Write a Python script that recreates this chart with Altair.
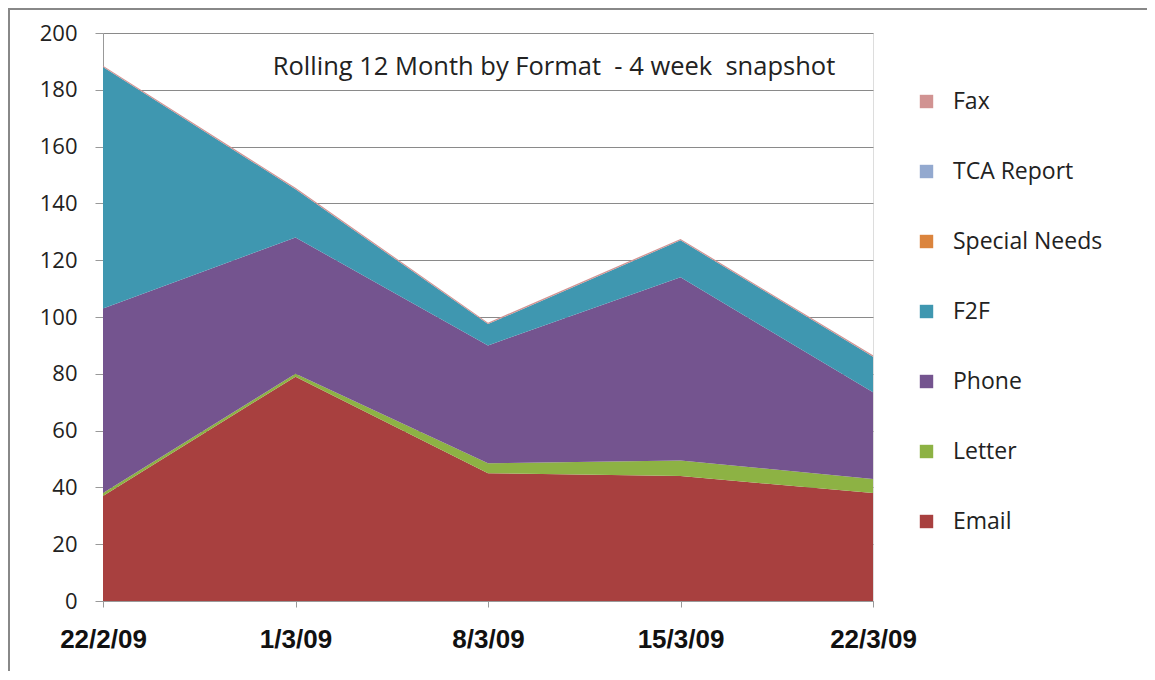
import altair as alt
import pandas as pd

dates = ["22/2/09", "1/3/09", "8/3/09", "15/3/09", "22/3/09"]
email = [37, 79, 45, 44, 38]
letter = [1, 1, 3.5, 5.5, 5]
phone = [65, 48, 41.5, 64.5, 30.5]
f2f = [85, 17, 7.5, 13, 12.5]
special_needs = [0, 0, 0, 0, 0]
tca_report = [0, 0, 0, 0, 0]
fax = [0.5, 0.5, 0.5, 0.5, 0.5]

series_names = ["Email", "Letter", "Phone", "F2F", "Special Needs", "TCA Report", "Fax"]
series_values = [email, letter, phone, f2f, special_needs, tca_report, fax]
series_colors = ["#A8403F", "#8DB244", "#74548F", "#3F97B0", "#DB843D", "#93A9CF", "#D19392"]

rows = []
for k, (name, vals) in enumerate(zip(series_names, series_values)):
    for d, v in zip(dates, vals):
        rows.append({"date": d, "series": name, "value": v, "order": k})
df = pd.DataFrame(rows)

legend_order = list(reversed(series_names))
legend_colors = list(reversed(series_colors))

W, H = 770, 568

areas = alt.Chart(df).mark_area(opacity=1).encode(
    x=alt.X("date:N", sort=dates,
            scale=alt.Scale(type="point", padding=0),
            axis=alt.Axis(title=None, labelAngle=0, labelFont="Liberation Sans",
                          labelFontWeight="bold", labelFontSize=26, labelColor="#111",
                          labelPadding=19, tickSize=6, tickColor="#999",
                          domainColor="#999", grid=False)),
    y=alt.Y("value:Q", stack="zero",
            scale=alt.Scale(domain=[0, 200], nice=False),
            axis=alt.Axis(title=None, values=list(range(0, 201, 20)), labelFont="Open Sans",
                          labelFontSize=22, labelColor="#222", labelPadding=18,
                          tickSize=8, tickColor="#999", domainColor="#999",
                          grid=True, gridColor="#8a8a8a", gridWidth=1)),
    color=alt.Color("series:N",
                    scale=alt.Scale(domain=legend_order, range=legend_colors),
                    legend=alt.Legend(title=None, orient="none", legendX=812, legendY=57,
                                      labelFont="Open Sans", labelFontSize=23,
                                      labelColor="#222", symbolType="square",
                                      symbolSize=180, symbolStrokeWidth=0,
                                      rowPadding=46, labelOffset=15)),
    order=alt.Order("order:Q", sort="ascending"),
)

title_text = "Rolling 12 Month by Format\u00a0\u00a0- 4 week\u00a0\u00a0snapshot"
title = alt.Chart(pd.DataFrame({"t": [title_text]})).mark_text(
    font="Open Sans", fontSize=25.5, color="#222", align="center", baseline="middle"
).encode(x=alt.value(451), y=alt.value(34), text="t:N")

border = alt.Chart(pd.DataFrame({"a": [0]})).mark_rect(
    fill=None, stroke="#888", strokeWidth=2
).encode(x=alt.value(-94), x2=alt.value(1100), y=alt.value(-24), y2=alt.value(700))

chart = alt.layer(areas, title, border).properties(
    width=W, height=H,
    autosize=alt.AutoSizeParams(type="none"),
    padding={"left": 95, "top": 25, "right": 274, "bottom": 70},
).configure_view(stroke=None).configure(background="white")

chart.save("out.html", embed_options={"renderer": "svg", "actions": False})
